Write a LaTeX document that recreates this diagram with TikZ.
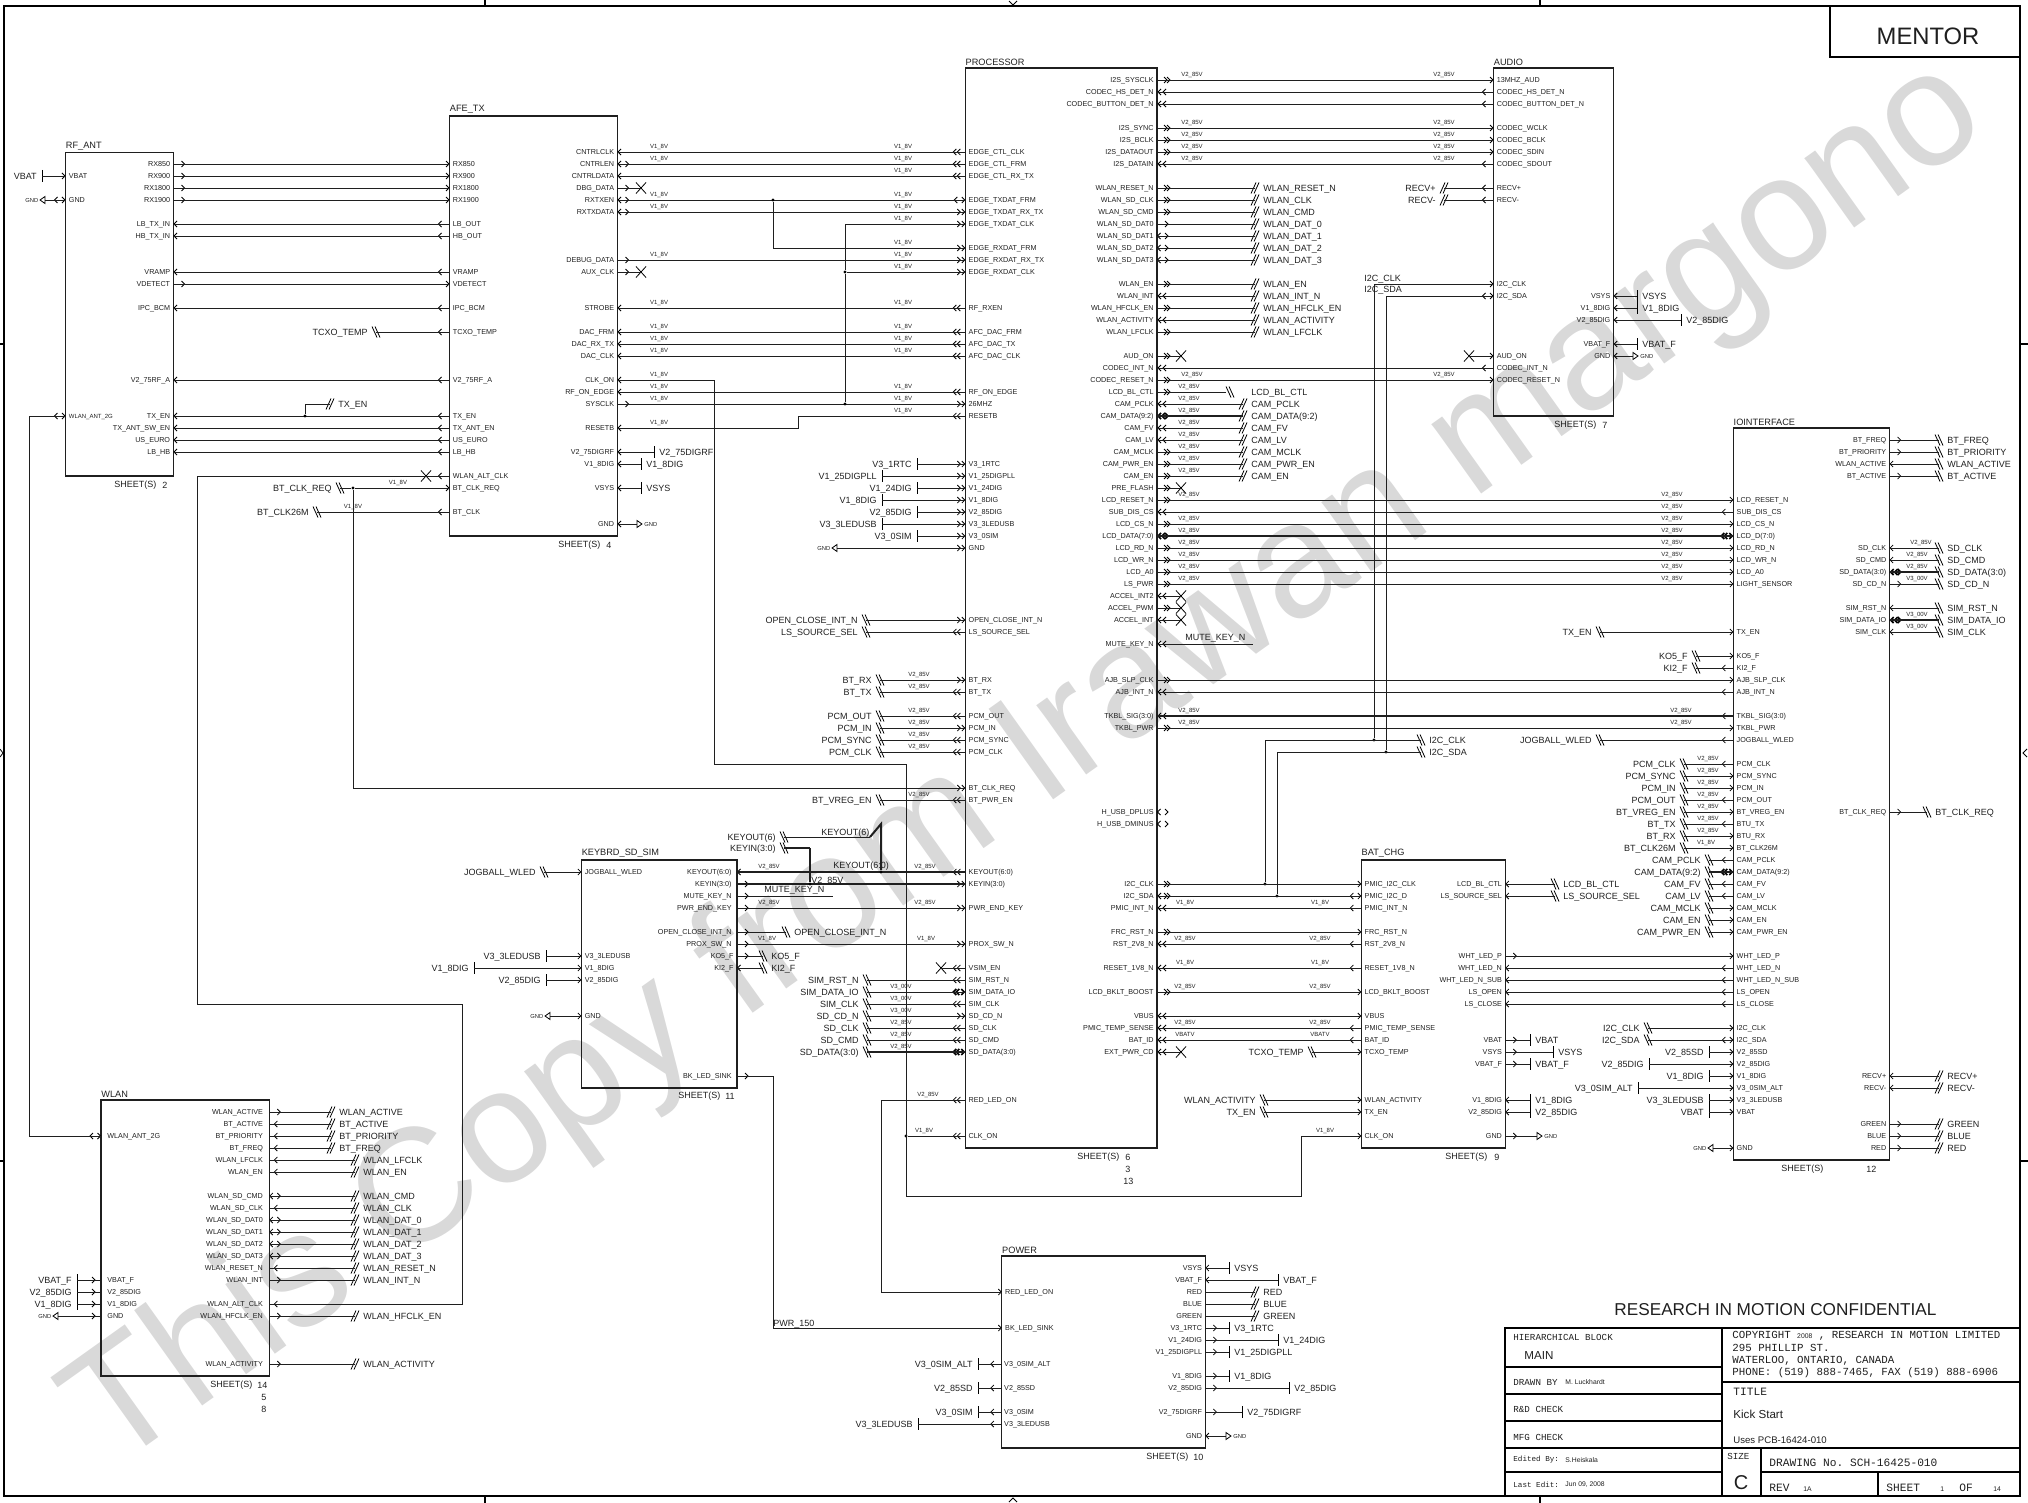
\documentclass[tikz,border=0pt]{standalone}
\usepackage{fontspec}
\setmainfont{Liberation Sans}
\setmonofont{Liberation Mono}
\usetikzlibrary{fit}
\catcode`\_=12
\definecolor{inkline}{gray}{0.12}
\definecolor{wmgray}{gray}{0.85}
\tikzstyle{wire} = [draw, line width=0.45pt, color=inkline]
\tikzstyle{bus} = [draw, line width=1pt, color=inkline]
\tikzstyle{chev} = [draw, line width=0.4pt, color=black]
\tikzstyle{sigmark} = [draw, line width=0.4pt, color=black]
\tikzstyle{outline} = [draw, line width=0.9pt, color=black]
\tikzstyle{block} = [draw, line width=0.6pt, color=inkline, inner sep=0pt]
\tikzstyle{blkname} = [anchor=south west, inner xsep=0pt, inner ysep=1pt, font=\fontsize{4.6}{5}\selectfont, text=inkline]
\tikzstyle{pinl} = [anchor=west, inner sep=0pt, inner xsep=1.5pt, text height=2.6pt, text depth=0pt, font=\fontsize{3.6}{4}\selectfont, text=inkline]
\tikzstyle{pinr} = [anchor=east, inner sep=0pt, inner xsep=1.5pt, text height=2.6pt, text depth=0pt, font=\fontsize{3.6}{4}\selectfont, text=inkline]
\tikzstyle{sigl} = [anchor=east, inner sep=0pt, inner xsep=4pt, text height=3.2pt, text depth=0pt, font=\fontsize{4.5}{5}\selectfont, text=inkline]
\tikzstyle{sigr} = [anchor=west, inner sep=0pt, inner xsep=4pt, text height=3.2pt, text depth=0pt, font=\fontsize{4.5}{5}\selectfont, text=inkline]
\tikzstyle{gndtxtl} = [anchor=east, inner sep=0pt, inner xsep=3.2pt, text height=2.1pt, text depth=0pt, font=\fontsize{2.9}{3}\selectfont, text=inkline]
\tikzstyle{gndtxtr} = [anchor=west, inner sep=0pt, inner xsep=3.5pt, text height=2.1pt, text depth=0pt, font=\fontsize{2.9}{3}\selectfont, text=inkline]
\tikzstyle{volt} = [inner sep=0pt, text height=2.1pt, text depth=0pt, font=\fontsize{3}{3.2}\selectfont, text=inkline]
\tikzstyle{labtext} = [anchor=west, inner sep=0pt, font=\fontsize{4.5}{5}\selectfont, text=inkline]
\tikzstyle{dot} = [circle, fill=black, inner sep=0pt, minimum size=1.7pt]
\tikzstyle{cadm} = [anchor=west, inner sep=0pt, font=\ttfamily\fontsize{4.6}{5}\selectfont, text=inkline]
\tikzstyle{cadn} = [anchor=west, inner sep=0pt, font=\ttfamily\fontsize{3.8}{4}\selectfont, text=inkline]
\tikzstyle{cadc} = [anchor=west, inner sep=0pt, font=\ttfamily\fontsize{5.4}{5.8}\selectfont, text=inkline]
\tikzstyle{cadb} = [anchor=west, inner sep=0pt, font=\ttfamily\fontsize{5.6}{6}\selectfont, text=inkline]
\tikzstyle{cads} = [anchor=west, inner sep=0pt, font=\fontsize{3.4}{4}\selectfont, text=inkline]
\tikzstyle{cadt} = [anchor=west, inner sep=0pt, font=\fontsize{5.8}{6}\selectfont, text=inkline]
\tikzstyle{wmark} = [inner sep=0pt, font=\fontsize{80.8}{81}\selectfont, text=wmgray]
\newcommand{\chl}[1]{\draw[chev] (#1+3,-3) -- (#1,0) -- (#1+3,3);}
\newcommand{\chrt}[1]{\draw[chev] (#1-3,-3) -- (#1,0) -- (#1-3,3);}
\tikzset{
  ri/.pic={\chl{.5}}, ro/.pic={\chrt{11}}, rb/.pic={\chl{.5}\chrt{11}}, rm/.pic={\chl{5}}, rn/.pic={},
  rI/.pic={\chl{1}\chl{6}}, rO/.pic={\chrt{10}\chrt{13}}, rD/.pic={\chl{1}\chrt{10}\chrt{13}},
  rB/.pic={\tikzset{chev/.append style={line width=.8pt}}\chl{1}\chl{5}\chrt{11}},
  li/.pic={\chrt{-.5}}, lo/.pic={\chl{-11}}, lb/.pic={\chrt{-.5}\chl{-11}}, lm/.pic={\chrt{-6}}, ln/.pic={},
  lI/.pic={\chrt{-.5}\chrt{-5}}, lO/.pic={\chl{-12}\chl{-8}},
  lB/.pic={\tikzset{chev/.append style={line width=.8pt}}\chrt{-1}\chl{-9}\chl{-12}},
  sl/.pic={\draw[sigmark] (1,-5.5) -- (-4,5.5); \draw[sigmark] (4,-5.5) -- (-1,5.5);},
  bs/.pic={\draw[sigmark] (-4,-5.5) -- (1,5.5); \draw[sigmark] (-1,-5.5) -- (4,5.5);},
  tb/.pic={\draw[sigmark] (0,-6) -- (0,6);},
  gr/.pic={\draw[sigmark] (0,-3.5) -- (5,0) -- (0,3.5) -- cycle;},
  gl/.pic={\draw[sigmark] (0,-3.5) -- (-5,0) -- (0,3.5) -- cycle;},
  xmk/.pic={\draw[sigmark] (-5,-5.5) -- (5,5.5); \draw[sigmark] (-5,5.5) -- (5,-5.5);}
}
\newcommand{\blk}[6]{\expandafter\def\csname x#1L\endcsname{#2}\expandafter\def\csname x#1R\endcsname{#4}\node[block,fit={(#2,#3) (#4,#5)}] (#1) {}; \node[blkname] (#1t) at (#2,#3) {#6};}
\newcommand{\pinl}[5][]{\node[pinl,#1] (#2L#3) at (\csname x#2L\endcsname,#3) {#4}; \pic at (\csname x#2L\endcsname,#3) {l#5};}
\newcommand{\pinr}[5][]{\node[pinr,#1] (#2R#3) at (\csname x#2R\endcsname,#3) {#4}; \pic at (\csname x#2R\endcsname,#3) {r#5};}
\newcommand{\sll}[6][wire]{\node[sigl] (s#3-#4) at (#3,#4) {#5}; \pic at (#3,#4) {#6}; \draw[#1] (#2) -- (s#3-#4.east);}
\newcommand{\slr}[6][wire]{\node[sigr] (s#3-#4) at (#3,#4) {#5}; \pic at (#3,#4) {#6}; \draw[#1] (#2) -- (s#3-#4.west);}
\newcommand{\tbl}[4]{\node[sigl,inner xsep=2.5pt] (t#2-#3) at (#2,#3) {#4}; \pic at (#2,#3) {tb}; \draw[wire] (#1) -- (t#2-#3.east);}
\newcommand{\tbr}[4]{\node[sigr,inner xsep=2.5pt] (t#2-#3) at (#2,#3) {#4}; \pic at (#2,#3) {tb}; \draw[wire] (#1) -- (t#2-#3.west);}
\newcommand{\gndl}[3]{\node[gndtxtl] (g#2-#3) at (#2,#3) {GND}; \pic at (#2,#3) {gl}; \draw[wire] (#1) -- (g#2-#3.east);}
\newcommand{\gndr}[3]{\node[gndtxtr] (g#2-#3) at (#2,#3) {GND}; \pic at (#2,#3) {gr}; \draw[wire] (#1) -- (g#2-#3.west);}
\newcommand{\xm}[3]{\coordinate (x#2-#3) at (#2,#3); \pic at (#2,#3) {xmk}; \draw[wire] (#1) -- (x#2-#3);}
\newcommand{\vol}[3]{\node[volt] (v#1-#2) at (#1,#2-5.5) {#3};}
\newcommand{\lab}[3]{\node[labtext] (n#1-#2) at (#1,#2) {#3};}
\newcommand{\va}{V1_8V}
\newcommand{\vb}{V2_85V}
\newcommand{\vc}{V3_00V}
\begin{document}
\begin{tikzpicture}[x=0.5pt, y=-0.5pt]
  \useasboundingbox (0,0) rectangle (2028,1503);

  \node[wmark, rotate=35.5] (wm) at (1028,766) {This Copy from Irawan margono};

  \draw[outline] (4,6) rectangle (2020,1496);
  \draw[outline] (485,0) -- (485,6);
  \draw[outline] (1540,0) -- (1540,6);
  \draw[outline] (485,1496) -- (485,1503);
  \draw[outline] (1540,1496) -- (1540,1503);
  \draw[outline] (0,344) -- (4,344);
  \draw[outline] (0,1161) -- (4,1161);
  \draw[outline] (2020,344) -- (2028,344);
  \draw[outline] (2020,1161) -- (2028,1161);
  \draw[sigmark] (1009,1) -- (1013,5) -- (1017,1);
  \draw[sigmark] (1009,1502) -- (1013,1498) -- (1017,1502);
  \draw[sigmark] (0,749) -- (3,753) -- (0,757);
  \draw[sigmark] (2027,749) -- (2023,753) -- (2027,757);

  \blk{rf}{65.5}{152.5}{173.5}{476}{RF_ANT}
  \blk{afe}{449.5}{116}{617.5}{536}{AFE_TX}
  \blk{prc}{965.3}{68}{1157}{1148}{PROCESSOR}
  \blk{aud}{1493.5}{68}{1613.7}{416}{AUDIO}
  \blk{ioi}{1733.3}{428}{1889.6}{1160}{IOINTERFACE}
  \blk{kbd}{581.4}{860}{737}{1088}{KEYBRD_SD_SIM}
  \blk{bat}{1361.3}{860}{1505.3}{1148}{BAT_CHG}
  \blk{wln}{101}{1100}{269.3}{1376}{WLAN}
  \blk{pwr}{1001.8}{1256}{1205.4}{1448}{POWER}

  \lab{114}{485}{SHEET(S)} \lab{162}{485}{2}
  \lab{558}{545}{SHEET(S)} \lab{606}{545}{4}
  \lab{1077}{1157}{SHEET(S)} \lab{1125}{1157}{6} \lab{1125}{1169}{3} \lab{1123}{1181}{13}
  \lab{1554}{425}{SHEET(S)} \lab{1602}{425}{7}
  \lab{1781}{1169}{SHEET(S)} \lab{1866}{1169}{12}
  \lab{678}{1096}{SHEET(S)} \lab{725}{1096}{11}
  \lab{1445}{1157}{SHEET(S)} \lab{1494}{1157}{9}
  \lab{210}{1385}{SHEET(S)} \lab{257}{1385}{14} \lab{261}{1397}{5} \lab{261}{1409}{8}
  \lab{1146}{1457}{SHEET(S)} \lab{1193}{1457}{10}

  \pinl{rf}{176}{VBAT}{i}
  \pinl{rf}{200}{GND}{b}
  \pinl[font=\fontsize{3}{3}\selectfont]{rf}{416}{WLAN_ANT_2G}{b}
  \pinr{rf}{164}{RX850}{o}
  \pinr{rf}{176}{RX900}{o}
  \pinr{rf}{188}{RX1800}{o}
  \pinr{rf}{200}{RX1900}{o}
  \pinr{rf}{224}{LB_TX_IN}{i}
  \pinr{rf}{236}{HB_TX_IN}{i}
  \pinr{rf}{272}{VRAMP}{i}
  \pinr{rf}{284}{VDETECT}{o}
  \pinr{rf}{308}{IPC_BCM}{i}
  \pinr{rf}{380}{V2_75RF_A}{i}
  \pinr{rf}{416}{TX_EN}{i}
  \pinr{rf}{428}{TX_ANT_SW_EN}{i}
  \pinr{rf}{440}{US_EURO}{i}
  \pinr{rf}{452}{LB_HB}{i}

  \pinl{afe}{164}{RX850}{i}
  \pinl{afe}{176}{RX900}{i}
  \pinl{afe}{188}{RX1800}{i}
  \pinl{afe}{200}{RX1900}{i}
  \pinl{afe}{224}{LB_OUT}{o}
  \pinl{afe}{236}{HB_OUT}{o}
  \pinl{afe}{272}{VRAMP}{o}
  \pinl{afe}{284}{VDETECT}{i}
  \pinl{afe}{308}{IPC_BCM}{o}
  \pinl{afe}{332}{TCXO_TEMP}{o}
  \pinl{afe}{380}{V2_75RF_A}{o}
  \pinl{afe}{416}{TX_EN}{o}
  \pinl{afe}{428}{TX_ANT_EN}{o}
  \pinl{afe}{440}{US_EURO}{o}
  \pinl{afe}{452}{LB_HB}{o}
  \pinl{afe}{476}{WLAN_ALT_CLK}{o}
  \pinl{afe}{488}{BT_CLK_REQ}{i}
  \pinl{afe}{512}{BT_CLK}{o}
  \pinr{afe}{152}{CNTRLCLK}{i}
  \pinr{afe}{164}{CNTRLEN}{b}
  \pinr{afe}{176}{CNTRLDATA}{i}
  \pinr{afe}{188}{DBG_DATA}{o}
  \pinr{afe}{200}{RXTXEN}{b}
  \pinr{afe}{212}{RXTXDATA}{b}
  \pinr{afe}{260}{DEBUG_DATA}{o}
  \pinr{afe}{272}{AUX_CLK}{o}
  \pinr{afe}{308}{STROBE}{i}
  \pinr{afe}{332}{DAC_FRM}{i}
  \pinr{afe}{344}{DAC_RX_TX}{i}
  \pinr{afe}{356}{DAC_CLK}{i}
  \pinr{afe}{380}{CLK_ON}{i}
  \pinr{afe}{392}{RF_ON_EDGE}{i}
  \pinr{afe}{404}{SYSCLK}{o}
  \pinr{afe}{428}{RESETB}{i}
  \pinr{afe}{452}{V2_75DIGRF}{i}
  \pinr{afe}{464}{V1_8DIG}{i}
  \pinr{afe}{488}{VSYS}{i}
  \pinr{afe}{524}{GND}{i}

  \pinl{prc}{152}{EDGE_CTL_CLK}{O}
  \pinl{prc}{164}{EDGE_CTL_FRM}{O}
  \pinl{prc}{176}{EDGE_CTL_RX_TX}{O}
  \pinl{prc}{200}{EDGE_TXDAT_FRM}{b}
  \pinl{prc}{212}{EDGE_TXDAT_RX_TX}{I}
  \pinl{prc}{224}{EDGE_TXDAT_CLK}{I}
  \pinl{prc}{248}{EDGE_RXDAT_FRM}{I}
  \pinl{prc}{260}{EDGE_RXDAT_RX_TX}{I}
  \pinl{prc}{272}{EDGE_RXDAT_CLK}{I}
  \pinl{prc}{308}{RF_RXEN}{O}
  \pinl{prc}{332}{AFC_DAC_FRM}{O}
  \pinl{prc}{344}{AFC_DAC_TX}{O}
  \pinl{prc}{356}{AFC_DAC_CLK}{O}
  \pinl{prc}{392}{RF_ON_EDGE}{O}
  \pinl{prc}{404}{26MHZ}{I}
  \pinl{prc}{416}{RESETB}{O}
  \pinl{prc}{464}{V3_1RTC}{I}
  \pinl{prc}{476}{V1_25DIGPLL}{I}
  \pinl{prc}{488}{V1_24DIG}{I}
  \pinl{prc}{500}{V1_8DIG}{I}
  \pinl{prc}{512}{V2_85DIG}{I}
  \pinl{prc}{524}{V3_3LEDUSB}{I}
  \pinl{prc}{536}{V3_0SIM}{I}
  \pinl{prc}{548}{GND}{I}
  \pinl{prc}{620}{OPEN_CLOSE_INT_N}{I}
  \pinl{prc}{632}{LS_SOURCE_SEL}{O}
  \pinl{prc}{680}{BT_RX}{I}
  \pinl{prc}{692}{BT_TX}{O}
  \pinl{prc}{716}{PCM_OUT}{O}
  \pinl{prc}{728}{PCM_IN}{I}
  \pinl{prc}{740}{PCM_SYNC}{O}
  \pinl{prc}{752}{PCM_CLK}{O}
  \pinl{prc}{788}{BT_CLK_REQ}{I}
  \pinl{prc}{800}{BT_PWR_EN}{O}
  \pinl{prc}{872}{KEYOUT(6:0)}{O}
  \pinl{prc}{884}{KEYIN(3:0)}{I}
  \pinl{prc}{908}{PWR_END_KEY}{I}
  \pinl{prc}{944}{PROX_SW_N}{I}
  \pinl{prc}{968}{VSIM_EN}{O}
  \pinl{prc}{980}{SIM_RST_N}{O}
  \pinl{prc}{992}{SIM_DATA_IO}{B}
  \pinl{prc}{1004}{SIM_CLK}{O}
  \pinl{prc}{1016}{SD_CD_N}{I}
  \pinl{prc}{1028}{SD_CLK}{O}
  \pinl{prc}{1040}{SD_CMD}{O}
  \pinl{prc}{1052}{SD_DATA(3:0)}{B}
  \pinl{prc}{1100}{RED_LED_ON}{O}
  \pinl{prc}{1136}{CLK_ON}{O}

  \pinr{prc}{80}{I2S_SYSCLK}{O}
  \pinr{prc}{92}{CODEC_HS_DET_N}{I}
  \pinr{prc}{104}{CODEC_BUTTON_DET_N}{I}
  \pinr{prc}{128}{I2S_SYNC}{O}
  \pinr{prc}{140}{I2S_BCLK}{O}
  \pinr{prc}{152}{I2S_DATAOUT}{O}
  \pinr{prc}{164}{I2S_DATAIN}{I}
  \pinr{prc}{188}{WLAN_RESET_N}{O}
  \pinr{prc}{200}{WLAN_SD_CLK}{O}
  \pinr{prc}{212}{WLAN_SD_CMD}{O}
  \pinr{prc}{224}{WLAN_SD_DAT0}{o}
  \pinr{prc}{236}{WLAN_SD_DAT1}{b}
  \pinr{prc}{248}{WLAN_SD_DAT2}{b}
  \pinr{prc}{260}{WLAN_SD_DAT3}{b}
  \pinr{prc}{284}{WLAN_EN}{O}
  \pinr{prc}{296}{WLAN_INT}{I}
  \pinr{prc}{308}{WLAN_HFCLK_EN}{O}
  \pinr{prc}{320}{WLAN_ACTIVITY}{I}
  \pinr{prc}{332}{WLAN_LFCLK}{O}
  \pinr{prc}{356}{AUD_ON}{O}
  \pinr{prc}{368}{CODEC_INT_N}{I}
  \pinr{prc}{380}{CODEC_RESET_N}{O}
  \pinr{prc}{392}{LCD_BL_CTL}{O}
  \pinr{prc}{404}{CAM_PCLK}{I}
  \pinr{prc}{416}{CAM_DATA(9:2)}{B}
  \pinr{prc}{428}{CAM_FV}{I}
  \pinr{prc}{440}{CAM_LV}{I}
  \pinr{prc}{452}{CAM_MCLK}{O}
  \pinr{prc}{464}{CAM_PWR_EN}{O}
  \pinr{prc}{476}{CAM_EN}{O}
  \pinr{prc}{488}{PRE_FLASH}{O}
  \pinr{prc}{500}{LCD_RESET_N}{O}
  \pinr{prc}{512}{SUB_DIS_CS}{I}
  \pinr{prc}{524}{LCD_CS_N}{O}
  \pinr{prc}{536}{LCD_DATA(7:0)}{B}
  \pinr{prc}{548}{LCD_RD_N}{O}
  \pinr{prc}{560}{LCD_WR_N}{O}
  \pinr{prc}{572}{LCD_A0}{O}
  \pinr{prc}{584}{LS_PWR}{O}
  \pinr{prc}{596}{ACCEL_INT2}{I}
  \pinr{prc}{608}{ACCEL_PWM}{O}
  \pinr{prc}{620}{ACCEL_INT}{I}
  \pinr{prc}{644}{MUTE_KEY_N}{I}
  \pinr{prc}{680}{AJB_SLP_CLK}{O}
  \pinr{prc}{692}{AJB_INT_N}{I}
  \pinr{prc}{716}{TKBL_SIG(3:0)}{I}
  \pinr{prc}{728}{TKBL_PWR}{O}
  \pinr{prc}{812}{H_USB_DPLUS}{b}
  \pinr{prc}{824}{H_USB_DMINUS}{b}
  \pinr{prc}{884}{I2C_CLK}{O}
  \pinr{prc}{896}{I2C_SDA}{D}
  \pinr{prc}{908}{PMIC_INT_N}{I}
  \pinr{prc}{932}{FRC_RST_N}{O}
  \pinr{prc}{944}{RST_2V8_N}{I}
  \pinr{prc}{968}{RESET_1V8_N}{I}
  \pinr{prc}{992}{LCD_BKLT_BOOST}{O}
  \pinr{prc}{1016}{VBUS}{I}
  \pinr{prc}{1028}{PMIC_TEMP_SENSE}{I}
  \pinr{prc}{1040}{BAT_ID}{I}
  \pinr{prc}{1052}{EXT_PWR_CD}{I}

  \pinl{aud}{80}{13MHZ_AUD}{i}
  \pinl{aud}{92}{CODEC_HS_DET_N}{o}
  \pinl{aud}{104}{CODEC_BUTTON_DET_N}{o}
  \pinl{aud}{128}{CODEC_WCLK}{i}
  \pinl{aud}{140}{CODEC_BCLK}{i}
  \pinl{aud}{152}{CODEC_SDIN}{i}
  \pinl{aud}{164}{CODEC_SDOUT}{o}
  \pinl{aud}{188}{RECV+}{o}
  \pinl{aud}{200}{RECV-}{o}
  \pinl{aud}{284}{I2C_CLK}{i}
  \pinl{aud}{296}{I2C_SDA}{b}
  \pinl{aud}{356}{AUD_ON}{i}
  \pinl{aud}{368}{CODEC_INT_N}{o}
  \pinl{aud}{380}{CODEC_RESET_N}{i}
  \pinr{aud}{296}{VSYS}{i}
  \pinr{aud}{308}{V1_8DIG}{i}
  \pinr{aud}{320}{V2_85DIG}{i}
  \pinr{aud}{344}{VBAT_F}{i}
  \pinr{aud}{356}{GND}{i}

  \pinl{ioi}{500}{LCD_RESET_N}{i}
  \pinl{ioi}{512}{SUB_DIS_CS}{o}
  \pinl{ioi}{524}{LCD_CS_N}{i}
  \pinl{ioi}{536}{LCD_D(7:0)}{B}
  \pinl{ioi}{548}{LCD_RD_N}{i}
  \pinl{ioi}{560}{LCD_WR_N}{i}
  \pinl{ioi}{572}{LCD_A0}{i}
  \pinl{ioi}{584}{LIGHT_SENSOR}{i}
  \pinl{ioi}{632}{TX_EN}{i}
  \pinl{ioi}{656}{KO5_F}{i}
  \pinl{ioi}{668}{KI2_F}{o}
  \pinl{ioi}{680}{AJB_SLP_CLK}{i}
  \pinl{ioi}{692}{AJB_INT_N}{o}
  \pinl{ioi}{716}{TKBL_SIG(3:0)}{o}
  \pinl{ioi}{728}{TKBL_PWR}{i}
  \pinl{ioi}{740}{JOGBALL_WLED}{o}
  \pinl{ioi}{764}{PCM_CLK}{o}
  \pinl{ioi}{776}{PCM_SYNC}{i}
  \pinl{ioi}{788}{PCM_IN}{i}
  \pinl{ioi}{800}{PCM_OUT}{o}
  \pinl{ioi}{812}{BT_VREG_EN}{i}
  \pinl{ioi}{824}{BTU_TX}{o}
  \pinl{ioi}{836}{BTU_RX}{i}
  \pinl{ioi}{848}{BT_CLK26M}{i}
  \pinl{ioi}{860}{CAM_PCLK}{o}
  \pinl{ioi}{872}{CAM_DATA(9:2)}{B}
  \pinl{ioi}{884}{CAM_FV}{o}
  \pinl{ioi}{896}{CAM_LV}{o}
  \pinl{ioi}{908}{CAM_MCLK}{i}
  \pinl{ioi}{920}{CAM_EN}{i}
  \pinl{ioi}{932}{CAM_PWR_EN}{i}
  \pinl{ioi}{956}{WHT_LED_P}{i}
  \pinl{ioi}{968}{WHT_LED_N}{o}
  \pinl{ioi}{980}{WHT_LED_N_SUB}{o}
  \pinl{ioi}{992}{LS_OPEN}{o}
  \pinl{ioi}{1004}{LS_CLOSE}{o}
  \pinl{ioi}{1028}{I2C_CLK}{i}
  \pinl{ioi}{1040}{I2C_SDA}{b}
  \pinl{ioi}{1052}{V2_85SD}{i}
  \pinl{ioi}{1064}{V2_85DIG}{i}
  \pinl{ioi}{1076}{V1_8DIG}{i}
  \pinl{ioi}{1088}{V3_0SIM_ALT}{i}
  \pinl{ioi}{1100}{V3_3LEDUSB}{i}
  \pinl{ioi}{1112}{VBAT}{i}
  \pinl{ioi}{1148}{GND}{i}
  \pinr{ioi}{440}{BT_FREQ}{o}
  \pinr{ioi}{452}{BT_PRIORITY}{o}
  \pinr{ioi}{464}{WLAN_ACTIVE}{i}
  \pinr{ioi}{476}{BT_ACTIVE}{o}
  \pinr{ioi}{548}{SD_CLK}{i}
  \pinr{ioi}{560}{SD_CMD}{i}
  \pinr{ioi}{572}{SD_DATA(3:0)}{B}
  \pinr{ioi}{584}{SD_CD_N}{o}
  \pinr{ioi}{608}{SIM_RST_N}{i}
  \pinr{ioi}{620}{SIM_DATA_IO}{B}
  \pinr{ioi}{632}{SIM_CLK}{i}
  \pinr{ioi}{812}{BT_CLK_REQ}{o}
  \pinr{ioi}{1076}{RECV+}{i}
  \pinr{ioi}{1088}{RECV-}{i}
  \pinr{ioi}{1124}{GREEN}{o}
  \pinr{ioi}{1136}{BLUE}{o}
  \pinr{ioi}{1148}{RED}{o}

  \pinl{kbd}{872}{JOGBALL_WLED}{i}
  \pinl{kbd}{956}{V3_3LEDUSB}{i}
  \pinl{kbd}{968}{V1_8DIG}{i}
  \pinl{kbd}{980}{V2_85DIG}{i}
  \pinl{kbd}{1016}{GND}{i}
  \pinr[inner xsep=2.5pt]{kbd}{872}{KEYOUT(6:0)}{i}
  \pinr[inner xsep=2.5pt]{kbd}{884}{KEYIN(3:0)}{o}
  \pinr[inner xsep=2.5pt]{kbd}{896}{MUTE_KEY_N}{o}
  \pinr[inner xsep=2.5pt]{kbd}{908}{PWR_END_KEY}{o}
  \pinr[inner xsep=2.5pt]{kbd}{932}{OPEN_CLOSE_INT_N}{o}
  \pinr[inner xsep=2.5pt]{kbd}{944}{PROX_SW_N}{o}
  \pinr{kbd}{956}{KO5_F}{o}
  \pinr{kbd}{968}{KI2_F}{i}
  \pinr[inner xsep=2.5pt]{kbd}{1076}{BK_LED_SINK}{o}

  \pinl{bat}{884}{PMIC_I2C_CLK}{i}
  \pinl{bat}{896}{PMIC_I2C_D}{b}
  \pinl{bat}{908}{PMIC_INT_N}{o}
  \pinl{bat}{932}{FRC_RST_N}{i}
  \pinl{bat}{944}{RST_2V8_N}{o}
  \pinl{bat}{968}{RESET_1V8_N}{o}
  \pinl{bat}{992}{LCD_BKLT_BOOST}{i}
  \pinl{bat}{1016}{VBUS}{i}
  \pinl{bat}{1028}{PMIC_TEMP_SENSE}{o}
  \pinl{bat}{1040}{BAT_ID}{o}
  \pinl{bat}{1052}{TCXO_TEMP}{i}
  \pinl{bat}{1100}{WLAN_ACTIVITY}{i}
  \pinl{bat}{1112}{TX_EN}{i}
  \pinl{bat}{1136}{CLK_ON}{i}
  \pinr{bat}{884}{LCD_BL_CTL}{i}
  \pinr{bat}{896}{LS_SOURCE_SEL}{i}
  \pinr{bat}{956}{WHT_LED_P}{o}
  \pinr{bat}{968}{WHT_LED_N}{i}
  \pinr{bat}{980}{WHT_LED_N_SUB}{i}
  \pinr{bat}{992}{LS_OPEN}{i}
  \pinr{bat}{1004}{LS_CLOSE}{i}
  \pinr{bat}{1040}{VBAT}{o}
  \pinr{bat}{1052}{VSYS}{o}
  \pinr{bat}{1064}{VBAT_F}{o}
  \pinr{bat}{1100}{V1_8DIG}{i}
  \pinr{bat}{1112}{V2_85DIG}{i}
  \pinr{bat}{1136}{GND}{o}

  \pinl[inner xsep=3pt]{wln}{1136}{WLAN_ANT_2G}{b}
  \pinl[inner xsep=3pt]{wln}{1280}{VBAT_F}{m}
  \pinl[inner xsep=3pt]{wln}{1292}{V2_85DIG}{m}
  \pinl[inner xsep=3pt]{wln}{1304}{V1_8DIG}{m}
  \pinl[inner xsep=3pt]{wln}{1316}{GND}{m}
  \pinr[inner xsep=3pt]{wln}{1112}{WLAN_ACTIVE}{o}
  \pinr[inner xsep=3pt]{wln}{1124}{BT_ACTIVE}{m}
  \pinr[inner xsep=3pt]{wln}{1136}{BT_PRIORITY}{m}
  \pinr[inner xsep=3pt]{wln}{1148}{BT_FREQ}{m}
  \pinr[inner xsep=3pt]{wln}{1160}{WLAN_LFCLK}{m}
  \pinr[inner xsep=3pt]{wln}{1172}{WLAN_EN}{m}
  \pinr[inner xsep=3pt]{wln}{1196}{WLAN_SD_CMD}{b}
  \pinr[inner xsep=3pt]{wln}{1208}{WLAN_SD_CLK}{m}
  \pinr[inner xsep=3pt]{wln}{1220}{WLAN_SD_DAT0}{b}
  \pinr[inner xsep=3pt]{wln}{1232}{WLAN_SD_DAT1}{b}
  \pinr[inner xsep=3pt]{wln}{1244}{WLAN_SD_DAT2}{b}
  \pinr[inner xsep=3pt]{wln}{1256}{WLAN_SD_DAT3}{b}
  \pinr[inner xsep=3pt]{wln}{1268}{WLAN_RESET_N}{m}
  \pinr[inner xsep=3pt]{wln}{1280}{WLAN_INT}{o}
  \pinr[inner xsep=3pt]{wln}{1304}{WLAN_ALT_CLK}{m}
  \pinr[inner xsep=3pt]{wln}{1316}{WLAN_HFCLK_EN}{o}
  \pinr[inner xsep=3pt]{wln}{1364}{WLAN_ACTIVITY}{o}

  \pinl{pwr}{1292}{RED_LED_ON}{i}
  \pinl{pwr}{1328}{BK_LED_SINK}{i}
  \pinl[inner xsep=1pt]{pwr}{1364}{V3_0SIM_ALT}{o}
  \pinl[inner xsep=1pt]{pwr}{1388}{V2_85SD}{o}
  \pinl[inner xsep=1pt]{pwr}{1412}{V3_0SIM}{o}
  \pinl[inner xsep=1pt]{pwr}{1424}{V3_3LEDUSB}{o}
  \pinr{pwr}{1268}{VSYS}{i}
  \pinr{pwr}{1280}{VBAT_F}{i}
  \pinr{pwr}{1292}{RED}{n}
  \pinr{pwr}{1304}{BLUE}{n}
  \pinr{pwr}{1316}{GREEN}{n}
  \pinr{pwr}{1328}{V3_1RTC}{o}
  \pinr{pwr}{1340}{V1_24DIG}{o}
  \pinr{pwr}{1352}{V1_25DIGPLL}{o}
  \pinr{pwr}{1376}{V1_8DIG}{o}
  \pinr{pwr}{1388}{V2_85DIG}{o}
  \pinr{pwr}{1412}{V2_75DIGRF}{o}
  \pinr{pwr}{1436}{GND}{i}

  \tbl{rfL176.west}{42}{176}{VBAT}
  \gndl{rfL200.west}{45}{200}
  \draw[wire] (rfR164.east) -- (afeL164.west);
  \draw[wire] (rfR176.east) -- (afeL176.west);
  \draw[wire] (rfR188.east) -- (afeL188.west);
  \draw[wire] (rfR200.east) -- (afeL200.west);
  \draw[wire] (rfR224.east) -- (afeL224.west);
  \draw[wire] (rfR236.east) -- (afeL236.west);
  \draw[wire] (rfR272.east) -- (afeL272.west);
  \draw[wire] (rfR284.east) -- (afeL284.west);
  \draw[wire] (rfR308.east) -- (afeL308.west);
  \draw[wire] (rfR380.east) -- (afeL380.west);
  \draw[wire] (rfR416.east) -- (afeL416.west);
  \draw[wire] (rfR428.east) -- (afeL428.west);
  \draw[wire] (rfR440.east) -- (afeL440.west);
  \draw[wire] (rfR452.east) -- (afeL452.west);

  \node[dot] (jtxen) at (305,416) {};
  \coordinate (ctxen) at (305,404);
  \draw[wire] (jtxen) -- (ctxen);
  \slr{ctxen}{330}{404}{TX_EN}{sl}

  \sll{afeL332.west}{376}{332}{TCXO_TEMP}{bs}
  \sll{afeL512.west}{317}{512}{BT_CLK26M}{bs}
  \vol{353}{512}{\va}
  \node[dot] (jbtreq) at (353,488) {};
  \coordinate (cbtreq) at (353,788);
  \draw[wire] (afeL488.west) -- (jbtreq);
  \vol{398}{488}{\va}
  \sll{jbtreq}{340}{488}{BT_CLK_REQ}{bs}
  \draw[wire] (jbtreq) -- (cbtreq) -- (prcL788.west);

  \coordinate (cant) at (29,416);
  \coordinate (cantb) at (29,1136);
  \draw[wire] (rfL416.west) -- (cant) -- (cantb) -- (wlnL1136.west);

  \coordinate (caltb) at (197,476);
  \coordinate (caltc) at (197,1004);
  \coordinate (caltd) at (462,1004);
  \coordinate (calte) at (462,1304);
  \pic at (426,476) {xmk};
  \draw[wire] (afeL476.west) -- (caltb) -- (caltc) -- (caltd) -- (calte) -- (wlnR1304.east);

  \draw[wire] (afeR152.east) -- (prcL152.west); \vol{659}{152}{\va} \vol{903}{152}{\va}
  \draw[wire] (afeR164.east) -- (prcL164.west); \vol{659}{164}{\va} \vol{903}{164}{\va}
  \draw[wire] (afeR176.east) -- (prcL176.west); \vol{903}{176}{\va}
  \xm{afeR188.east}{641}{188}
  \draw[wire] (afeR200.east) -- (prcL200.west); \vol{659}{200}{\va} \vol{903}{200}{\va}
  \draw[wire] (afeR212.east) -- (prcL212.west); \vol{659}{212}{\va} \vol{903}{212}{\va}
  \draw[wire] (afeR260.east) -- (prcL260.west); \vol{659}{260}{\va} \vol{903}{260}{\va}
  \xm{afeR272.east}{641}{272}
  \draw[wire] (afeR308.east) -- (prcL308.west); \vol{659}{308}{\va} \vol{903}{308}{\va}
  \draw[wire] (afeR332.east) -- (prcL332.west); \vol{659}{332}{\va} \vol{903}{332}{\va}
  \draw[wire] (afeR344.east) -- (prcL344.west); \vol{659}{344}{\va} \vol{903}{344}{\va}
  \draw[wire] (afeR356.east) -- (prcL356.west); \vol{659}{356}{\va} \vol{903}{356}{\va}
  \draw[wire] (afeR392.east) -- (prcL392.west); \vol{659}{392}{\va} \vol{903}{392}{\va}
  \draw[wire] (afeR404.east) -- (prcL404.west); \vol{659}{404}{\va} \vol{903}{404}{\va}
  \vol{659}{380}{\va} \vol{659}{428}{\va} \vol{903}{416}{\va} \vol{903}{224}{\va} \vol{903}{248}{\va} \vol{903}{272}{\va}

  \node[dot] (jrxtx) at (773,200) {};
  \coordinate (crxtx) at (773,248);
  \draw[wire] (jrxtx) -- (crxtx) -- (prcL248.west);
  \node[dot] (jsysclk) at (845,404) {};
  \node[dot] (jrxclk) at (845,272) {};
  \coordinate (ctxclk) at (845,224);
  \draw[wire] (jsysclk) -- (jrxclk);
  \draw[wire] (jrxclk) -- (ctxclk) -- (prcL224.west);
  \draw[wire] (jrxclk) -- (prcL272.west);
  \coordinate (crsta) at (798,428);
  \coordinate (crstb) at (798,416);
  \draw[wire] (afeR428.east) -- (crsta) -- (crstb) -- (prcL416.west);

  \tbr{afeR452.east}{654}{452}{V2_75DIGRF}
  \tbr{afeR464.east}{641}{464}{V1_8DIG}
  \tbr{afeR488.east}{641}{488}{VSYS}
  \gndr{afeR524.east}{637}{524}

  \node[dot] (jclkon) at (906,1136) {};
  \coordinate (ckona) at (714,380);
  \coordinate (ckonb) at (714,764);
  \coordinate (ckonc) at (906,764);
  \coordinate (ckond) at (906,1196);
  \coordinate (ckone) at (1301,1196);
  \coordinate (ckonf) at (1301,1136);
  \draw[wire] (afeR380.east) -- (ckona) -- (ckonb) -- (ckonc) -- (ckond) -- (ckone) -- (ckonf) -- (batL1136.west);
  \draw[wire] (jclkon) -- (prcL1136.west);
  \vol{924}{1136}{\va} \vol{1325}{1136}{\va}
  \coordinate (credb) at (881,1100);
  \coordinate (credc) at (881,1292);
  \draw[wire] (prcL1100.west) -- (credb) -- (credc) -- (pwrL1292.west);
  \vol{928}{1100}{\vb}
  \coordinate (cbka) at (773,1076);
  \coordinate (cbkb) at (773,1328);
  \draw[wire] (kbdR1076.east) -- (cbka) -- (cbkb) -- (pwrL1328.west);
  \lab{773}{1324}{PWR_150}

  \tbl{prcL464.west}{917}{464}{V3_1RTC}
  \tbl{prcL476.west}{882}{476}{V1_25DIGPLL}
  \tbl{prcL488.west}{917}{488}{V1_24DIG}
  \tbl{prcL500.west}{882}{500}{V1_8DIG}
  \tbl{prcL512.west}{917}{512}{V2_85DIG}
  \tbl{prcL524.west}{882}{524}{V3_3LEDUSB}
  \tbl{prcL536.west}{917}{536}{V3_0SIM}
  \gndl{prcL548.west}{837}{548}
  \sll{prcL620.west}{866}{620}{OPEN_CLOSE_INT_N}{bs}
  \sll{prcL632.west}{866}{632}{LS_SOURCE_SEL}{bs}
  \sll{prcL680.west}{880}{680}{BT_RX}{bs} \vol{919}{680}{\vb}
  \sll{prcL692.west}{880}{692}{BT_TX}{bs} \vol{919}{692}{\vb}
  \sll{prcL716.west}{880}{716}{PCM_OUT}{bs} \vol{919}{716}{\vb}
  \sll{prcL728.west}{880}{728}{PCM_IN}{bs} \vol{919}{728}{\vb}
  \sll{prcL740.west}{880}{740}{PCM_SYNC}{bs} \vol{919}{740}{\vb}
  \sll{prcL752.west}{880}{752}{PCM_CLK}{bs} \vol{919}{752}{\vb}
  \sll{prcL800.west}{880}{800}{BT_VREG_EN}{bs} \vol{919}{800}{\vb}
  \xm{prcL968.west}{941}{968}
  \sll{prcL980.west}{867}{980}{SIM_RST_N}{bs}
  \sll{prcL992.west}{867}{992}{SIM_DATA_IO}{bs} \vol{901}{992}{\vc}
  \sll{prcL1004.west}{867}{1004}{SIM_CLK}{bs} \vol{901}{1004}{\vc}
  \sll{prcL1016.west}{867}{1016}{SD_CD_N}{bs} \vol{901}{1016}{\vc}
  \sll{prcL1028.west}{867}{1028}{SD_CLK}{bs} \vol{901}{1028}{\vb}
  \sll{prcL1040.west}{867}{1040}{SD_CMD}{bs} \vol{901}{1040}{\vb}
  \sll[bus]{prcL1052.west}{867}{1052}{SD_DATA(3:0)}{bs} \vol{901}{1052}{\vb}

  \sll{kbdL872.west}{544}{872}{JOGBALL_WLED}{bs}
  \tbl{kbdL956.west}{546}{956}{V3_3LEDUSB}
  \tbl{kbdL968.west}{474}{968}{V1_8DIG}
  \tbl{kbdL980.west}{546}{980}{V2_85DIG}
  \gndl{kbdL1016.west}{550}{1016}
  \draw[bus] (kbdR872.east) -- (prcL872.west); \vol{769}{872}{\vb} \vol{925}{872}{\vb}
  \draw[bus] (kbdR884.east) -- (prcL884.west);
  \coordinate (cmutea) at (833,896);
  \draw[wire] (kbdR896.east) -- (cmutea);
  \draw[wire] (kbdR908.east) -- (prcL908.west); \vol{769}{908}{\vb} \vol{925}{908}{\vb}
  \slr{kbdR932.east}{786}{932}{OPEN_CLOSE_INT_N}{bs}
  \draw[wire] (kbdR944.east) -- (prcL944.west); \vol{767}{944}{\va} \vol{926}{944}{\va}
  \slr{kbdR956.east}{763}{956}{KO5_F}{bs}
  \slr{kbdR968.east}{763}{968}{KI2_F}{bs}
  \node[dot] (jkeyout) at (881,872) {};
  \node[dot] (jkeyin) at (810,884) {};
  \coordinate (ckoa) at (881,824);
  \coordinate (ckob) at (870,837);
  \coordinate (ckic) at (810,848);
  \draw[bus] (jkeyout) -- (ckoa) -- (ckob);
  \draw[bus] (jkeyin) -- (ckic);
  \sll{ckob}{784}{837}{KEYOUT(6)}{bs}
  \sll[bus]{ckic}{784}{848}{KEYIN(3:0)}{bs}
  \lab{821}{833}{KEYOUT(6)}
  \lab{833}{866}{KEYOUT(6:0)}
  \lab{811}{881}{V2_85V}
  \lab{764}{890}{MUTE_KEY_N}

  \draw[wire] (prcR80.east) -- (audL80.west); \vol{1192}{80}{\vb} \vol{1444}{80}{\vb}
  \draw[wire] (prcR92.east) -- (audL92.west);
  \draw[wire] (prcR104.east) -- (audL104.west);
  \draw[wire] (prcR128.east) -- (audL128.west); \vol{1192}{128}{\vb} \vol{1444}{128}{\vb}
  \draw[wire] (prcR140.east) -- (audL140.west); \vol{1192}{140}{\vb} \vol{1444}{140}{\vb}
  \draw[wire] (prcR152.east) -- (audL152.west); \vol{1192}{152}{\vb} \vol{1444}{152}{\vb}
  \draw[wire] (prcR164.east) -- (audL164.west); \vol{1192}{164}{\vb} \vol{1444}{164}{\vb}
  \draw[wire] (prcR368.east) -- (audL368.west);
  \draw[wire] (prcR380.east) -- (audL380.west); \vol{1192}{380}{\vb} \vol{1444}{380}{\vb}

  \slr{prcR188.east}{1255}{188}{WLAN_RESET_N}{sl}
  \slr{prcR200.east}{1255}{200}{WLAN_CLK}{sl}
  \slr{prcR212.east}{1255}{212}{WLAN_CMD}{sl}
  \slr{prcR224.east}{1255}{224}{WLAN_DAT_0}{sl}
  \slr{prcR236.east}{1255}{236}{WLAN_DAT_1}{sl}
  \slr{prcR248.east}{1255}{248}{WLAN_DAT_2}{sl}
  \slr{prcR260.east}{1255}{260}{WLAN_DAT_3}{sl}
  \slr{prcR284.east}{1255}{284}{WLAN_EN}{sl}
  \slr{prcR296.east}{1255}{296}{WLAN_INT_N}{sl}
  \slr{prcR308.east}{1255}{308}{WLAN_HFCLK_EN}{sl}
  \slr{prcR320.east}{1255}{320}{WLAN_ACTIVITY}{sl}
  \slr{prcR332.east}{1255}{332}{WLAN_LFCLK}{sl}
  \xm{prcR356.east}{1181}{356}
  \xm{audL356.west}{1469}{356}
  \coordinate (cblctl) at (1226,392);
  \node[sigr] (s1243-392) at (1243,392) {LCD_BL_CTL};
  \pic at (1230,392) {bs};
  \draw[wire] (prcR392.east) -- (cblctl); \vol{1189}{392}{\vb}
  \slr{prcR404.east}{1243}{404}{CAM_PCLK}{sl} \vol{1189}{404}{\vb}
  \slr[bus]{prcR416.east}{1243}{416}{CAM_DATA(9:2)}{sl} \vol{1189}{416}{\vb}
  \slr{prcR428.east}{1243}{428}{CAM_FV}{sl} \vol{1189}{428}{\vb}
  \slr{prcR440.east}{1243}{440}{CAM_LV}{sl} \vol{1189}{440}{\vb}
  \slr{prcR452.east}{1243}{452}{CAM_MCLK}{sl} \vol{1189}{452}{\vb}
  \slr{prcR464.east}{1243}{464}{CAM_PWR_EN}{sl} \vol{1189}{464}{\vb}
  \slr{prcR476.east}{1243}{476}{CAM_EN}{sl} \vol{1189}{476}{\vb}
  \xm{prcR488.east}{1181}{488}
  \xm{prcR596.east}{1181}{596}
  \xm{prcR608.east}{1181}{608}
  \xm{prcR620.east}{1181}{620}
  \xm{prcR1052.east}{1181}{1052}
  \coordinate (cmute) at (1253,644);
  \draw[wire] (prcR644.east) -- (cmute);
  \lab{1185}{638}{MUTE_KEY_N}

  \draw[wire] (prcR500.east) -- (ioiL500.west); \vol{1189}{500}{\vb} \vol{1672}{500}{\vb}
  \draw[wire] (prcR512.east) -- (ioiL512.west); \vol{1672}{512}{\vb}
  \draw[wire] (prcR524.east) -- (ioiL524.west); \vol{1189}{524}{\vb} \vol{1672}{524}{\vb}
  \draw[bus] (prcR536.east) -- (ioiL536.west); \vol{1189}{536}{\vb} \vol{1672}{536}{\vb}
  \draw[wire] (prcR548.east) -- (ioiL548.west); \vol{1189}{548}{\vb} \vol{1672}{548}{\vb}
  \draw[wire] (prcR560.east) -- (ioiL560.west); \vol{1189}{560}{\vb} \vol{1672}{560}{\vb}
  \draw[wire] (prcR572.east) -- (ioiL572.west); \vol{1189}{572}{\vb} \vol{1672}{572}{\vb}
  \draw[wire] (prcR584.east) -- (ioiL584.west); \vol{1189}{584}{\vb} \vol{1672}{584}{\vb}
  \draw[wire] (prcR680.east) -- (ioiL680.west);
  \draw[wire] (prcR692.east) -- (ioiL692.west);
  \draw[bus] (prcR716.east) -- (ioiL716.west); \vol{1189}{716}{\vb} \vol{1681}{716}{\vb}
  \draw[wire] (prcR728.east) -- (ioiL728.west); \vol{1189}{728}{\vb} \vol{1681}{728}{\vb}

  \node[dot] (ji2ca) at (1265,884) {};
  \node[dot] (ji2cb) at (1277,896) {};
  \node[dot] (ji2cc) at (1374,740) {};
  \node[dot] (ji2cd) at (1386,752) {};
  \coordinate (ci2ca) at (1265,740);
  \coordinate (ci2cb) at (1277,752);
  \coordinate (ci2cc) at (1374,284);
  \coordinate (ci2cd) at (1386,296);
  \draw[wire] (ji2ca) -- (ci2ca);
  \draw[wire] (ji2cb) -- (ci2cb);
  \draw[wire] (ji2cc) -- (ci2cc) -- (audL284.west);
  \draw[wire] (ji2cd) -- (ci2cd) -- (audL296.west);
  \slr{ci2ca}{1421}{740}{I2C_CLK}{bs}
  \slr{ci2cb}{1421}{752}{I2C_SDA}{bs}
  \lab{1364}{279}{I2C_CLK}
  \lab{1364}{290}{I2C_SDA}

  \draw[wire] (prcR884.east) -- (batL884.west);
  \draw[wire] (prcR896.east) -- (batL896.west);
  \draw[wire] (prcR908.east) -- (batL908.west); \vol{1185}{908}{\va} \vol{1320}{908}{\va}
  \draw[wire] (prcR932.east) -- (batL932.west);
  \draw[wire] (prcR944.east) -- (batL944.west); \vol{1185}{944}{\vb} \vol{1320}{944}{\vb}
  \draw[wire] (prcR968.east) -- (batL968.west); \vol{1185}{968}{\va} \vol{1320}{968}{\va}
  \draw[wire] (prcR992.east) -- (batL992.west); \vol{1185}{992}{\vb} \vol{1320}{992}{\vb}
  \draw[wire] (prcR1016.east) -- (batL1016.west);
  \draw[wire] (prcR1028.east) -- (batL1028.west); \vol{1185}{1028}{\vb} \vol{1320}{1028}{\vb}
  \draw[wire] (prcR1040.east) -- (batL1040.west); \vol{1185}{1040}{VBATV} \vol{1320}{1040}{VBATV}
  \sll{batL1052.west}{1312}{1052}{TCXO_TEMP}{bs}
  \sll{batL1100.west}{1264}{1100}{WLAN_ACTIVITY}{bs}
  \sll{batL1112.west}{1264}{1112}{TX_EN}{bs}

  \slr{batR884.east}{1555}{884}{LCD_BL_CTL}{bs}
  \slr{batR896.east}{1555}{896}{LS_SOURCE_SEL}{bs}
  \draw[wire] (batR956.east) -- (ioiL956.west);
  \draw[wire] (batR968.east) -- (ioiL968.west);
  \draw[wire] (batR980.east) -- (ioiL980.west);
  \draw[wire] (batR992.east) -- (ioiL992.west);
  \draw[wire] (batR1004.east) -- (ioiL1004.west);
  \tbr{batR1040.east}{1530}{1040}{VBAT}
  \tbr{batR1052.east}{1553}{1052}{VSYS}
  \tbr{batR1064.east}{1530}{1064}{VBAT_F}
  \tbr{batR1100.east}{1530}{1100}{V1_8DIG}
  \tbr{batR1112.east}{1530}{1112}{V2_85DIG}
  \gndr{batR1136.east}{1537}{1136}

  \sll{audL188.west}{1444}{188}{RECV+}{sl}
  \sll{audL200.west}{1444}{200}{RECV-}{sl}
  \tbr{audR296.east}{1637}{296}{VSYS}
  \tbr{audR308.east}{1637}{308}{V1_8DIG}
  \tbr{audR320.east}{1681}{320}{V2_85DIG}
  \tbr{audR344.east}{1637}{344}{VBAT_F}
  \gndr{audR356.east}{1633}{356}

  \sll{ioiL632.west}{1600}{632}{TX_EN}{bs}
  \sll{ioiL656.west}{1696}{656}{KO5_F}{bs}
  \sll{ioiL668.west}{1696}{668}{KI2_F}{bs}
  \sll{ioiL740.west}{1600}{740}{JOGBALL_WLED}{bs}
  \sll{ioiL764.west}{1684}{764}{PCM_CLK}{bs} \vol{1708}{764}{\vb}
  \sll{ioiL776.west}{1684}{776}{PCM_SYNC}{bs} \vol{1708}{776}{\vb}
  \sll{ioiL788.west}{1684}{788}{PCM_IN}{bs} \vol{1708}{788}{\vb}
  \sll{ioiL800.west}{1684}{800}{PCM_OUT}{bs} \vol{1708}{800}{\vb}
  \sll{ioiL812.west}{1684}{812}{BT_VREG_EN}{bs} \vol{1708}{812}{\vb}
  \sll{ioiL824.west}{1684}{824}{BT_TX}{bs} \vol{1708}{824}{\vb}
  \sll{ioiL836.west}{1684}{836}{BT_RX}{bs} \vol{1708}{836}{\vb}
  \sll{ioiL848.west}{1684}{848}{BT_CLK26M}{bs} \vol{1706}{848}{\va}
  \sll{ioiL860.west}{1709}{860}{CAM_PCLK}{bs}
  \sll[bus]{ioiL872.west}{1709}{872}{CAM_DATA(9:2)}{bs}
  \sll{ioiL884.west}{1709}{884}{CAM_FV}{bs}
  \sll{ioiL896.west}{1709}{896}{CAM_LV}{bs}
  \sll{ioiL908.west}{1709}{908}{CAM_MCLK}{bs}
  \sll{ioiL920.west}{1709}{920}{CAM_EN}{bs}
  \sll{ioiL932.west}{1709}{932}{CAM_PWR_EN}{bs}
  \sll{ioiL1028.west}{1648}{1028}{I2C_CLK}{bs}
  \sll{ioiL1040.west}{1648}{1040}{I2C_SDA}{bs}
  \tbl{ioiL1052.west}{1709}{1052}{V2_85SD}
  \tbl{ioiL1064.west}{1649}{1064}{V2_85DIG}
  \tbl{ioiL1076.west}{1709}{1076}{V1_8DIG}
  \tbl{ioiL1088.west}{1638}{1088}{V3_0SIM_ALT}
  \tbl{ioiL1100.west}{1709}{1100}{V3_3LEDUSB}
  \tbl{ioiL1112.west}{1709}{1112}{VBAT}
  \gndl{ioiL1148.west}{1713}{1148}

  \slr{ioiR440.east}{1939}{440}{BT_FREQ}{bs}
  \slr{ioiR452.east}{1939}{452}{BT_PRIORITY}{bs}
  \slr{ioiR464.east}{1939}{464}{WLAN_ACTIVE}{bs}
  \slr{ioiR476.east}{1939}{476}{BT_ACTIVE}{bs}
  \slr{ioiR548.east}{1939}{548}{SD_CLK}{bs} \vol{1921}{548}{\vb}
  \slr{ioiR560.east}{1939}{560}{SD_CMD}{bs} \vol{1917}{560}{\vb}
  \slr[bus]{ioiR572.east}{1939}{572}{SD_DATA(3:0)}{bs} \vol{1917}{572}{\vb}
  \slr{ioiR584.east}{1939}{584}{SD_CD_N}{bs} \vol{1917}{584}{\vc}
  \slr{ioiR608.east}{1939}{608}{SIM_RST_N}{bs}
  \slr[bus]{ioiR620.east}{1939}{620}{SIM_DATA_IO}{bs} \vol{1917}{620}{\vc}
  \slr{ioiR632.east}{1939}{632}{SIM_CLK}{bs} \vol{1917}{632}{\vc}
  \slr{ioiR812.east}{1927}{812}{BT_CLK_REQ}{bs}
  \slr{ioiR1076.east}{1939}{1076}{RECV+}{sl}
  \slr{ioiR1088.east}{1939}{1088}{RECV-}{sl}
  \slr{ioiR1124.east}{1939}{1124}{GREEN}{sl}
  \slr{ioiR1136.east}{1939}{1136}{BLUE}{sl}
  \slr{ioiR1148.east}{1939}{1148}{RED}{sl}

  \tbl{wlnL1280.west}{77}{1280}{VBAT_F}
  \tbl{wlnL1292.west}{77}{1292}{V2_85DIG}
  \tbl{wlnL1304.west}{77}{1304}{V1_8DIG}
  \gndl{wlnL1316.west}{58}{1316}
  \slr{wlnR1112.east}{331}{1112}{WLAN_ACTIVE}{sl}
  \slr{wlnR1124.east}{331}{1124}{BT_ACTIVE}{sl}
  \slr{wlnR1136.east}{331}{1136}{BT_PRIORITY}{sl}
  \slr{wlnR1148.east}{331}{1148}{BT_FREQ}{sl}
  \slr{wlnR1160.east}{355}{1160}{WLAN_LFCLK}{sl}
  \slr{wlnR1172.east}{355}{1172}{WLAN_EN}{sl}
  \slr{wlnR1196.east}{355}{1196}{WLAN_CMD}{sl}
  \slr{wlnR1208.east}{355}{1208}{WLAN_CLK}{sl}
  \slr{wlnR1220.east}{355}{1220}{WLAN_DAT_0}{sl}
  \slr{wlnR1232.east}{355}{1232}{WLAN_DAT_1}{sl}
  \slr{wlnR1244.east}{355}{1244}{WLAN_DAT_2}{sl}
  \slr{wlnR1256.east}{355}{1256}{WLAN_DAT_3}{sl}
  \slr{wlnR1268.east}{355}{1268}{WLAN_RESET_N}{sl}
  \slr{wlnR1280.east}{355}{1280}{WLAN_INT_N}{sl}
  \slr{wlnR1316.east}{355}{1316}{WLAN_HFCLK_EN}{sl}
  \slr{wlnR1364.east}{355}{1364}{WLAN_ACTIVITY}{sl}

  \tbl{pwrL1364.west}{978}{1364}{V3_0SIM_ALT}
  \tbl{pwrL1388.west}{978}{1388}{V2_85SD}
  \tbl{pwrL1412.west}{978}{1412}{V3_0SIM}
  \tbl{pwrL1424.west}{918}{1424}{V3_3LEDUSB}
  \tbr{pwrR1268.east}{1229}{1268}{VSYS}
  \tbr{pwrR1280.east}{1278}{1280}{VBAT_F}
  \slr{pwrR1292.east}{1255}{1292}{RED}{sl}
  \slr{pwrR1304.east}{1255}{1304}{BLUE}{sl}
  \slr{pwrR1316.east}{1255}{1316}{GREEN}{sl}
  \tbr{pwrR1328.east}{1229}{1328}{V3_1RTC}
  \tbr{pwrR1340.east}{1278}{1340}{V1_24DIG}
  \tbr{pwrR1352.east}{1229}{1352}{V1_25DIGPLL}
  \tbr{pwrR1376.east}{1229}{1376}{V1_8DIG}
  \tbr{pwrR1388.east}{1289}{1388}{V2_85DIG}
  \tbr{pwrR1412.east}{1242}{1412}{V2_75DIGRF}
  \gndr{pwrR1436.east}{1226}{1436}

  \draw[outline] (1830,6) -- (1830,57) -- (2020,57);
  \node[inner sep=0pt, font=\fontsize{11.9}{12}\selectfont, text=inkline] (mentor) at (1928,36) {MENTOR};
  \node[anchor=west, inner sep=0pt, font=\fontsize{8.6}{9}\selectfont, text=inkline] (conf) at (1614,1310) {RESEARCH IN MOTION CONFIDENTIAL};

  \draw[outline] (1505,1496) -- (1505,1328) -- (2020,1328);
  \draw[outline] (1722,1328) -- (1722,1496);
  \draw[outline] (1505,1367) -- (1722,1367);
  \draw[outline] (1505,1394) -- (1722,1394);
  \draw[outline] (1505,1421) -- (1722,1421);
  \draw[outline] (1505,1448) -- (2020,1448);
  \draw[outline] (1505,1472) -- (1722,1472);
  \draw[outline] (1722,1382) -- (2020,1382);
  \draw[outline] (1761,1448) -- (1761,1496);
  \draw[outline] (1761,1472) -- (2020,1472);
  \draw[outline] (1878,1472) -- (1878,1496);

  \node[cadm] (tbhier) at (1513,1337) {HIERARCHICAL BLOCK};
  \node[cadt] (tbmain) at (1524,1355) {MAIN};
  \node[cadm] (tbdrawn) at (1513,1382) {DRAWN BY};
  \node[cads] (tbdrawnv) at (1565,1382) {M. Luckhardt};
  \node[cadm] (tbrd) at (1513,1409) {R\&D CHECK};
  \node[cadm] (tbmfg) at (1513,1437) {MFG CHECK};
  \node[cadn] (tbedit) at (1513,1460) {Edited By:};
  \node[cads] (tbeditv) at (1565,1460) {S.Heiskala};
  \node[cadn] (tblast) at (1513,1485) {Last Edit:};
  \node[cads] (tblastv) at (1565,1485) {Jun 09, 2008};
  \node[cadc] (tbcopy) at (1732,1336) {COPYRIGHT  {\rmfamily\fontsize{3.4}{4}\selectfont 2008} , RESEARCH IN MOTION LIMITED};
  \node[cadc] (tbaddr) at (1732,1348) {295 PHILLIP ST.};
  \node[cadc] (tbcity) at (1732,1361) {WATERLOO, ONTARIO, CANADA};
  \node[cadc] (tbphone) at (1732,1373) {PHONE: (519) 888-7465, FAX (519) 888-6906};
  \node[cadb] (tbtitle) at (1733,1392) {TITLE};
  \node[cadt] (tbkick) at (1733,1414) {Kick Start};
  \node[cads, font=\fontsize{4.8}{5}\selectfont] (tbuses) at (1733,1440) {Uses PCB-16424-010};
  \node[cadm] (tbsize) at (1727,1456) {SIZE};
  \node[inner sep=0pt, font=\fontsize{10}{11}\selectfont, text=inkline] (tbc) at (1741,1483) {C};
  \node[cadb] (tbdwg) at (1769,1463) {DRAWING No. SCH-16425-010};
  \node[cadb] (tbrev) at (1769,1488) {REV};
  \node[cads] (tbrevv) at (1803,1489) {1A};
  \node[cadb] (tbsheet) at (1886,1488) {SHEET};
  \node[cads] (tbsheetv) at (1940,1489) {1};
  \node[cadb] (tbof) at (1959,1488) {OF};
  \node[cads] (tbofv) at (1993,1489) {14};
\end{tikzpicture}
\end{document}
